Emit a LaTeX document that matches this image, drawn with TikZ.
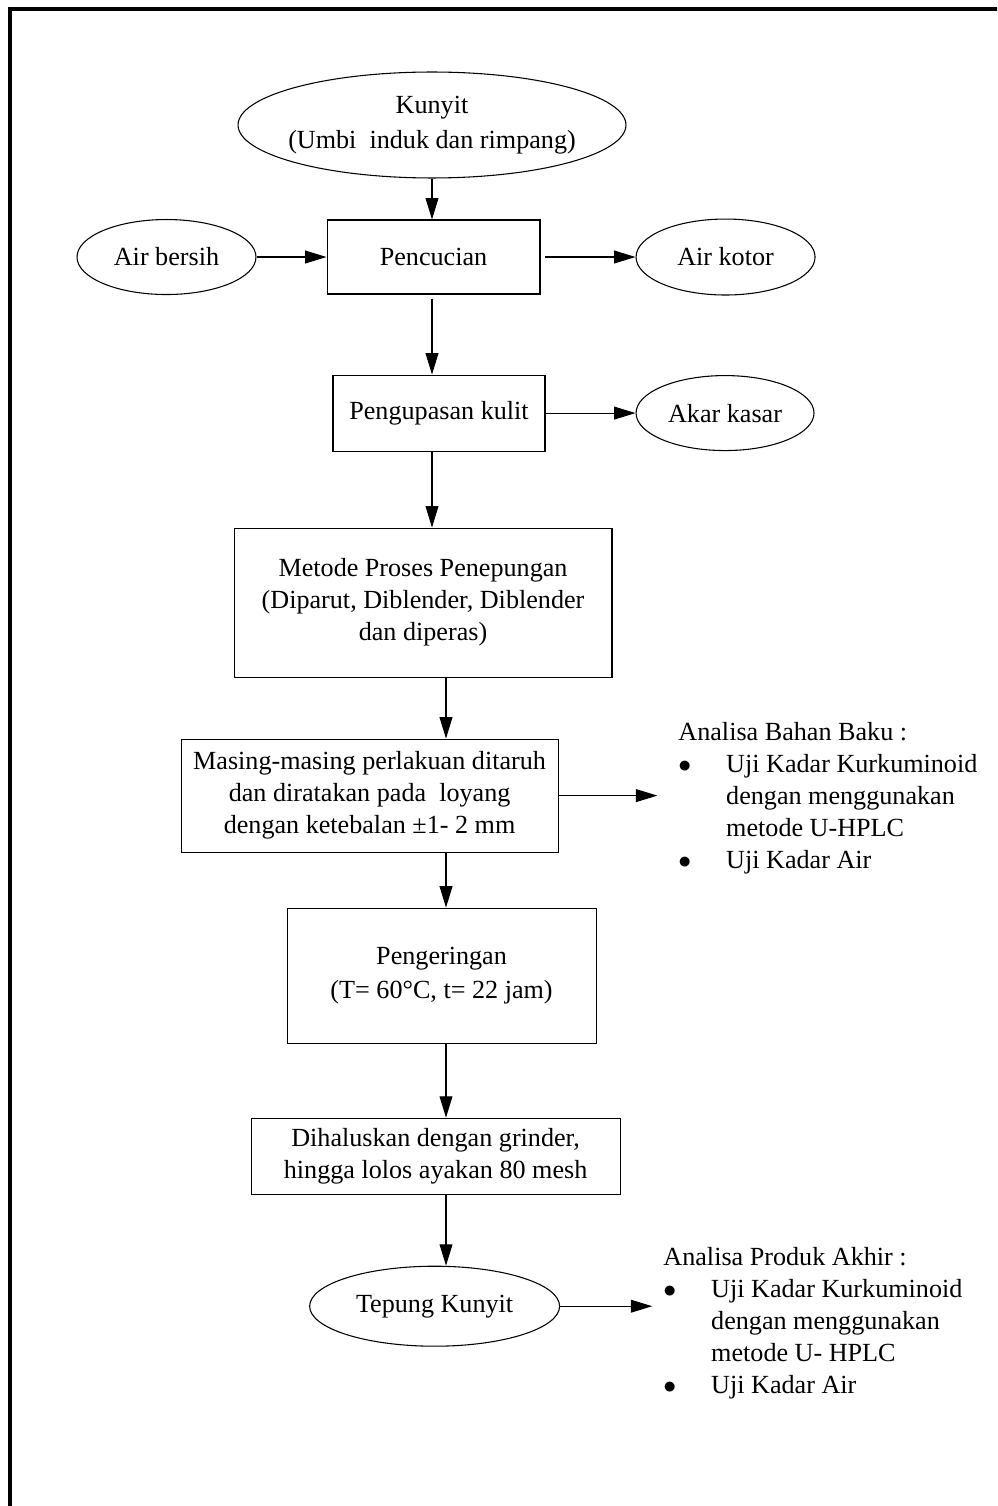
\documentclass[tikz,border=0pt]{standalone}
\usepackage{fontspec}
\setmainfont{Liberation Serif}
\usepackage{tikz}
\usetikzlibrary{arrows.meta,positioning,shapes.geometric}
\tikzset{
  box/.style={rectangle, draw=black, line width=0.5pt, align=center, inner sep=0pt},
  oval/.style={ellipse, draw=black, line width=0.5pt, align=center, inner sep=0pt},
  note/.style={align=left, inner sep=0pt, anchor=north west},
  arrow/.style={-{Triangle[length=10pt,width=6pt]}, line width=0.5pt},
}
\newcommand{\bulitem}{\makebox[22.3pt][l]{$\bullet$}}
\newcommand{\bulgap}{\hspace*{22.3pt}}

\begin{document}
\begin{tikzpicture}[x=0.0164cm, y=-0.0164cm, font=\fontsize{12.2}{14.9}\selectfont]
\useasboundingbox (0,0) rectangle (997,1506);
% frame
\begin{scope}
  \clip (0,0) rectangle (997,1506);
  \draw[line width=2.3pt] (10,1520) -- (10,9) -- (1010,9);
\end{scope}

% main column
\node[oval, minimum width=6.363cm, minimum height=1.738cm, inner xsep=-4pt] (kunyit) at (432,125) {Kunyit\\[1.5pt](Umbi\ \ induk dan rimpang)};
\node[box, minimum width=3.493cm, minimum height=1.214cm, below=0.672cm of kunyit, xshift=0.025cm] (pencucian) {Pencucian};
\node[box, minimum width=3.477cm, minimum height=1.246cm, below=1.312cm of pencucian, xshift=0.09cm] (pengupasan) {Pengupasan kulit};
\node[box, minimum width=6.199cm, minimum height=2.444cm, below=1.246cm of pengupasan, xshift=-0.262cm] (metode) {Metode Proses Penepungan\\(Diparut, Diblender, Diblender\\dan diperas)};
\node[box, minimum width=6.183cm, minimum height=1.853cm, below=1.0cm of metode, xshift=-0.877cm] (masing) {Masing-masing perlakuan ditaruh\\dan diratakan pada\ \ loyang\\dengan ketebalan ±1- 2 mm};
\node[box, minimum width=5.068cm, minimum height=2.214cm, below=0.902cm of masing, xshift=1.181cm] (pengeringan) {Pengeringan\\[1pt](T= 60°C, t= 22 jam)};
\node[box, minimum width=6.052cm, minimum height=1.246cm, below=1.214cm of pengeringan, xshift=-0.098cm] (dihaluskan) {Dihaluskan dengan grinder,\\hingga lolos ayakan 80 mesh};
\node[oval, minimum width=4.1cm, minimum height=1.312cm, below=1.164cm of dihaluskan, xshift=-0.016cm] (tepung) {Tepung Kunyit};

% side nodes
\node[oval, minimum width=2.936cm, minimum height=1.23cm, left=1.148cm of pencucian] (airbersih) {Air bersih};
\node[oval, minimum width=2.936cm, minimum height=1.246cm, right=1.558cm of pencucian] (airkotor) {Air kotor};
\node[oval, minimum width=2.919cm, minimum height=1.23cm, right=1.476cm of pengupasan] (akarkasar) {Akar kasar};

\node[note] (bahanbaku) at (678,722) {Analisa Bahan Baku :\\\bulitem Uji Kadar Kurkuminoid\\\bulgap dengan menggunakan\\\bulgap metode U-HPLC\\\bulitem Uji Kadar Air};
\node[note] (produkakhir) at (663,1247) {Analisa Produk Akhir :\\\bulitem Uji Kadar Kurkuminoid\\\bulgap dengan menggunakan\\\bulgap metode U- HPLC\\\bulitem Uji Kadar Air};

% arrows
\coordinate (upper) at (432,0);
\coordinate (lower) at (446,0);
\coordinate[right=1.62cm of masing.east] (bahanend);
\coordinate[right=1.51cm of tepung.east] (produkend);

\draw[arrow] (kunyit.south -| upper) -- (pencucian.north -| upper);
\draw[arrow] (airbersih) -- (pencucian);
\draw[arrow, shorten <=2pt] (pencucian) -- (airkotor);
\draw[arrow, shorten <=2pt] (pencucian.south -| upper) -- (pengupasan.north -| upper);
\draw[arrow] (pengupasan) -- (akarkasar);
\draw[arrow] (pengupasan.south -| upper) -- (metode.north -| upper);
\foreach \a/\b in {metode/masing, masing/pengeringan, pengeringan/dihaluskan, dihaluskan/tepung}
  \draw[arrow] (\a.south -| lower) -- (\b.north -| lower);
\draw[arrow] (masing.east) -- (bahanend);
\draw[arrow] (tepung.east) -- (produkend);
\end{tikzpicture}
\end{document}
